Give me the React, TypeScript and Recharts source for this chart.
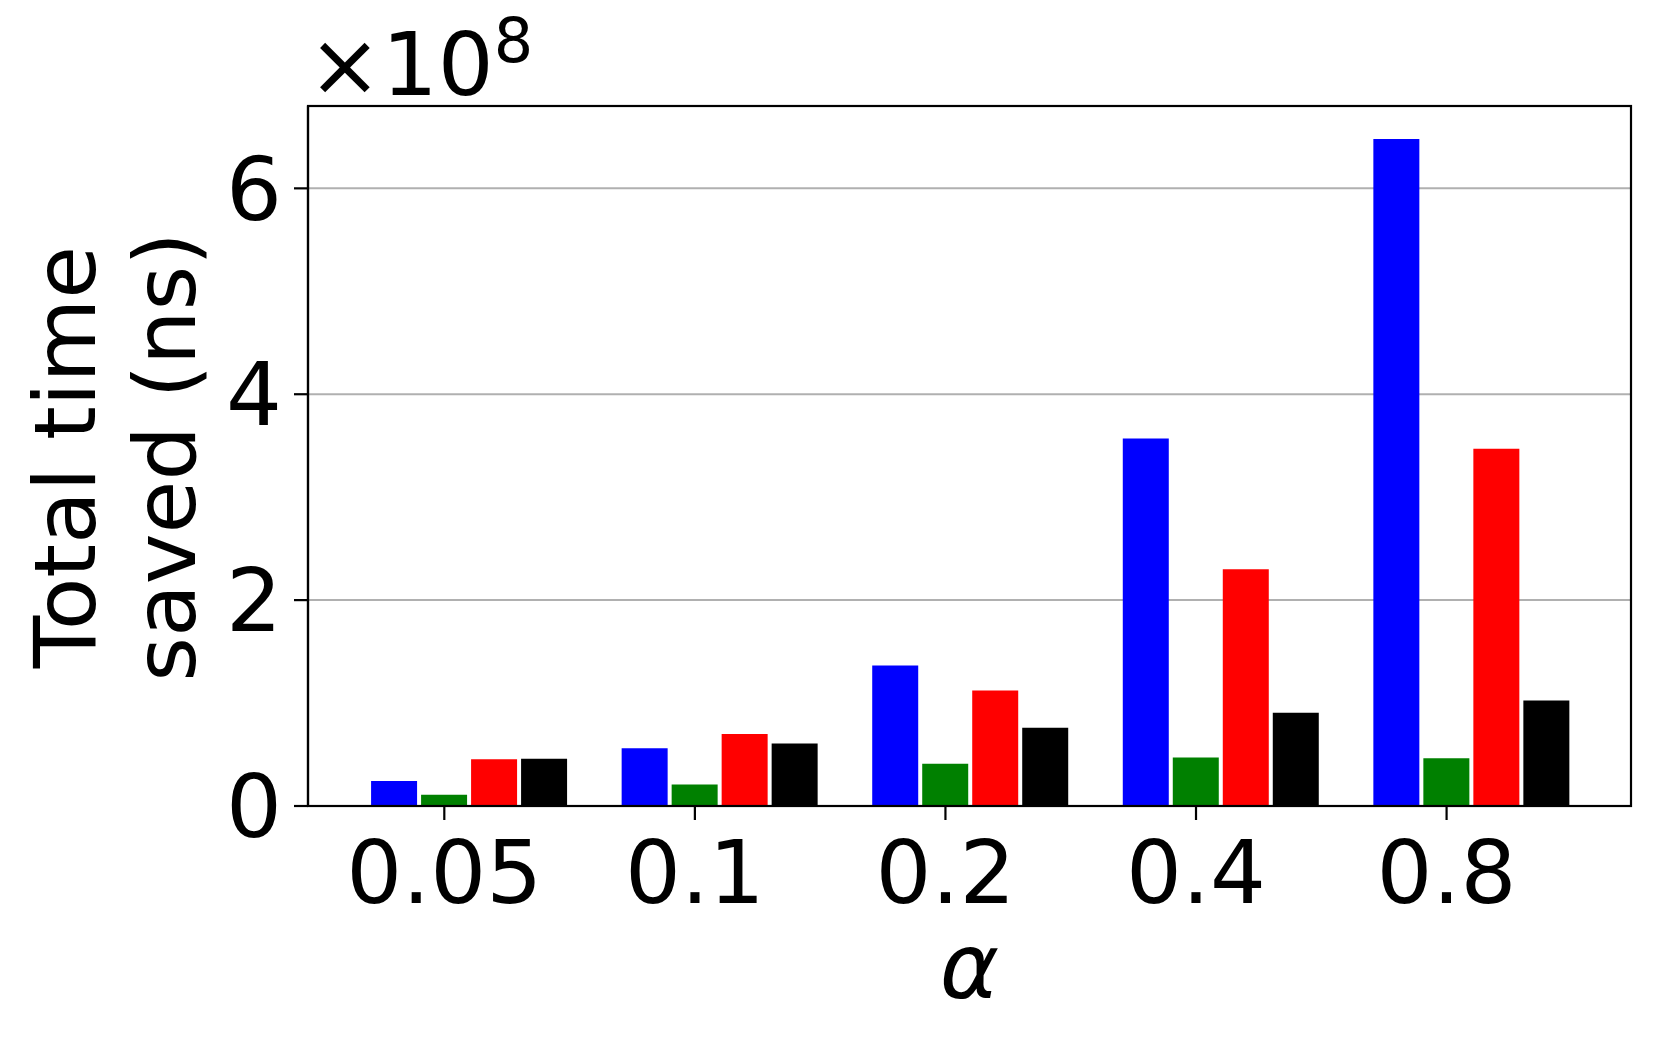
import { BarChart, Bar, XAxis, YAxis, CartesianGrid } from 'recharts';

// alpha values on the x axis
const alphas = ['0.05', '0.1', '0.2', '0.4', '0.8'];

// total time saved, in units of 1e8 ns
const blueSeries = [0.244, 0.56, 1.364, 3.57, 6.48];
const greenSeries = [0.11, 0.21, 0.41, 0.47, 0.464];
const redSeries = [0.455, 0.7, 1.121, 2.3, 3.47];
const blackSeries = [0.46, 0.607, 0.759, 0.906, 1.025];

const yTicks = [0, 2, 4, 6];

const data = alphas.map((alpha, i) => ({
  alpha,
  blue: blueSeries[i],
  green: greenSeries[i],
  red: redSeries[i],
  black: blackSeries[i],
}));

const W = 1661;
const H = 1048;
const PLOT_LEFT = 308;
const PLOT_TOP = 106;
const PLOT_RIGHT = 1631;
const PLOT_BOTTOM = 806;
const PLOT_W = PLOT_RIGHT - PLOT_LEFT;
// matplotlib xlim spans 5.28 category units; ticks sit on the 2nd bar of each group
const UNIT = PLOT_W / 5.28;
const TICK_SHIFT = UNIT * 0.1;
const FONT = 'DejaVu Sans, sans-serif';

const XTick = (props: any) => {
  const { x, y, payload } = props;
  const cx = x - TICK_SHIFT;
  return (
    <g>
      <line x1={cx} x2={cx} y1={y} y2={y + 14} stroke="#000" strokeWidth={2.2} />
      <text x={cx} y={y + 97} textAnchor="middle" fontSize={88} fontFamily={FONT} fill="#000">
        {payload.value}
      </text>
    </g>
  );
};

const App = () => {
  return (
    <div style={{ position: 'absolute', left: 0, top: 0, width: W, height: H, background: '#fff' }}>
      <BarChart
        width={W}
        height={H}
        data={data}
        margin={{ top: PLOT_TOP, right: W - PLOT_RIGHT, bottom: 0, left: 0 }}
        barGap={4}
        barSize={46}
      >
        <CartesianGrid vertical={false} horizontalValues={yTicks} stroke="#b0b0b0" strokeWidth={2} />
        <XAxis
          dataKey="alpha"
          height={H - PLOT_BOTTOM}
          padding={{ left: UNIT * 0.14 + 1, right: UNIT * 0.14 - 1 }}
          axisLine={{ stroke: '#000', strokeWidth: 2.2 }}
          tickLine={false}
          tickSize={0}
          tickMargin={0}
          tick={<XTick />}
          interval={0}
        />
        <YAxis
          width={PLOT_LEFT}
          domain={[0, 6.8]}
          ticks={yTicks}
          allowDataOverflow
          axisLine={{ stroke: '#000', strokeWidth: 2.2 }}
          tickLine={{ stroke: '#000', strokeWidth: 2.2 }}
          tickSize={14}
          tickMargin={12}
          tick={{ fontSize: 88, fontFamily: FONT, fill: '#000' }}
          label={() => (
            <g>
              <text
                transform="translate(94.6,457) rotate(-90)"
                textAnchor="middle"
                fontSize={86}
                fontFamily={FONT}
                fill="#000"
              >
                Total time
              </text>
              <text
                transform="translate(194.6,457) rotate(-90)"
                textAnchor="middle"
                fontSize={86}
                fontFamily={FONT}
                fill="#000"
              >
                saved (ns)
              </text>
            </g>
          )}
        />
        <Bar dataKey="blue" fill="#0000ff" isAnimationActive={false} />
        <Bar dataKey="green" fill="#008000" isAnimationActive={false} />
        <Bar dataKey="red" fill="#ff0000" isAnimationActive={false} />
        <Bar dataKey="black" fill="#000000" isAnimationActive={false} />
      </BarChart>
      <svg
        width={W}
        height={H}
        style={{ position: 'absolute', left: 0, top: 0, pointerEvents: 'none' }}
      >
        {/* axes frame (top and right spines) */}
        <rect
          x={PLOT_LEFT}
          y={PLOT_TOP}
          width={PLOT_W}
          height={PLOT_BOTTOM - PLOT_TOP}
          fill="none"
          stroke="#000"
          strokeWidth={2.2}
        />
        <text x={308} y={95} fontSize={88} fontFamily={FONT} fill="#000">
          ×10
          <tspan fontSize={62} dy={-33}>8</tspan>
        </text>
        <text
          x={(PLOT_LEFT + PLOT_RIGHT) / 2}
          y={998}
          textAnchor="middle"
          fontSize={90}
          fontStyle="italic"
          fontFamily={FONT}
          fill="#000"
        >
          α
        </text>
      </svg>
    </div>
  );
};

export default App;
